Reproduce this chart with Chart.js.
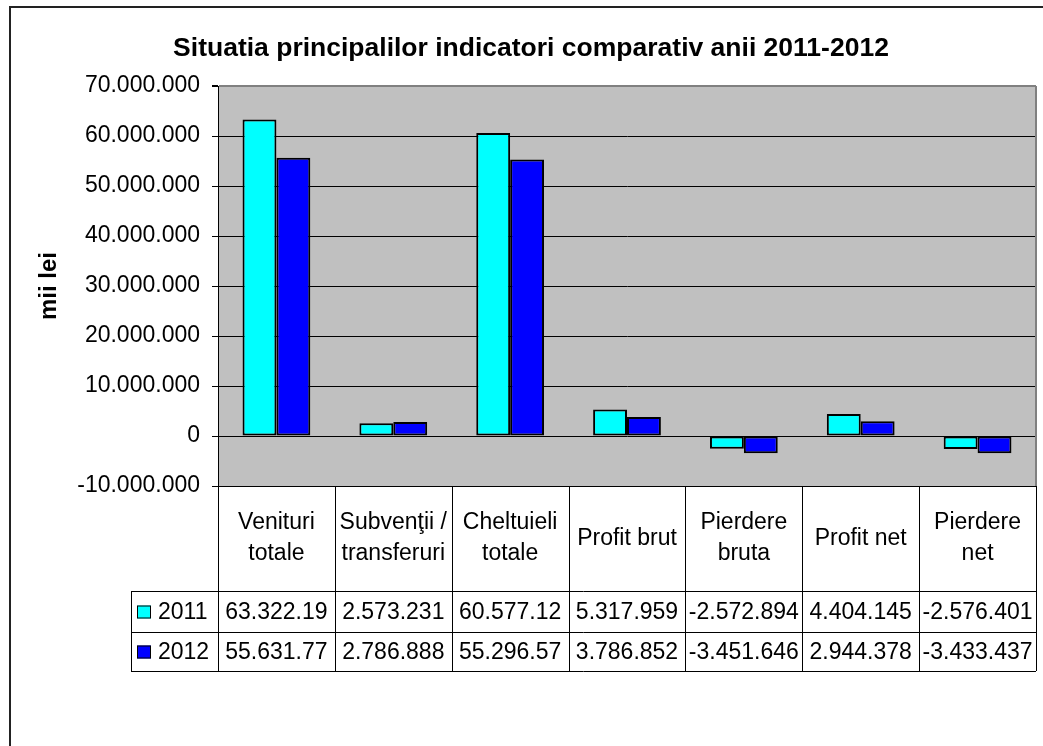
<!DOCTYPE html>
<html>
<head>
<meta charset="utf-8">
<script src="https://cdn.jsdelivr.net/npm/chart.js@4"></script>
<style>
  html, body { margin: 0; padding: 0; background: #fff; }
  #wrap { width: 1043px; height: 746px; }
</style>
</head>
<body>
<div id="wrap"><canvas id="bar-chart" width="1043" height="746"></canvas></div>
<script>
const categories = [
  ['Venituri', 'totale'],
  ['Subvenţii /', 'transferuri'],
  ['Cheltuieli', 'totale'],
  ['Profit brut'],
  ['Pierdere', 'bruta'],
  ['Profit net'],
  ['Pierdere', 'net']
];
const seriesNames = ['2011', '2012'];
const values2011 = [63322190, 2573231, 60577120, 5317959, -2572894, 4404145, -2576401];
const values2012 = [55631770, 2786888, 55296570, 3786852, -3451646, 2944378, -3433437];
const yMin = -10000000;
const yMax = 70000000;
const yStep = 10000000;

const FONT = '"Liberation Sans", Arial, sans-serif';

function fmt(v) {
  const s = String(Math.abs(Math.round(v))).replace(/\B(?=(\d{3})+(?!\d))/g, '.');
  return (v < 0 ? '-' : '') + s;
}

// excel style: cut characters that don't fit in the cell
function fitText(ctx, s, maxW) {
  while (s.length > 1 && ctx.measureText(s).width > maxW) s = s.slice(0, -1);
  return s;
}

const frame = {
  id: 'frame',
  beforeDraw(chart) {
    const {ctx, chartArea: a} = chart;
    ctx.save();
    ctx.fillStyle = '#fff';
    ctx.fillRect(0, 0, chart.width, chart.height);
    ctx.strokeStyle = '#222';
    ctx.lineWidth = 2;
    ctx.strokeRect(10, 7, 1200, 1200);
    ctx.fillStyle = '#C0C0C0';
    ctx.fillRect(a.left, a.top, a.right - a.left, a.bottom - a.top);
    ctx.restore();
  },
  afterDraw(chart) {
    const {ctx, chartArea: a} = chart;
    const x = chart.scales.x;
    const n = chart.data.labels.length;
    const colW = (a.right - a.left) / n;
    const headerB = a.bottom + 105;
    const row1B = headerB + 41;
    const row2B = row1B + 39;
    const legL = a.left - 87;

    ctx.save();
    // plot right edge
    ctx.strokeStyle = '#808080';
    ctx.lineWidth = 2;
    ctx.beginPath();
    ctx.moveTo(a.right, a.top);
    ctx.lineTo(a.right, a.bottom);
    ctx.stroke();

    // table grid
    ctx.strokeStyle = '#000';
    ctx.lineWidth = 1;
    ctx.beginPath();
    for (let i = 0; i <= n; i++) {
      const cx = Math.round(a.left + i * colW) + 0.5;
      ctx.moveTo(cx, a.bottom);
      ctx.lineTo(cx, row2B);
    }
    ctx.moveTo(a.left, a.bottom + 0.5);
    ctx.lineTo(a.right, a.bottom + 0.5);
    [headerB, row1B, row2B].forEach(y => {
      ctx.moveTo(legL, y + 0.5);
      ctx.lineTo(a.right, y + 0.5);
    });
    ctx.moveTo(legL + 0.5, headerB);
    ctx.lineTo(legL + 0.5, row2B);
    ctx.stroke();

    ctx.fillStyle = '#000';
    ctx.font = '23px ' + FONT;
    ctx.textAlign = 'center';
    ctx.textBaseline = 'middle';

    // header labels
    const headMid = (a.bottom + headerB) / 2;
    chart.data.labels.forEach((lab, i) => {
      const cx = x.getPixelForValue(i);
      const lines = Array.isArray(lab) ? lab : [lab];
      const lh = 31;
      const y0 = headMid - (lines.length - 1) * lh / 2;
      lines.forEach((t, k) => ctx.fillText(t, cx, y0 + k * lh));
    });

    // value rows
    const rowMids = [(headerB + row1B) / 2 + 1, (row1B + row2B) / 2 + 1];
    chart.data.datasets.forEach((ds, r) => {
      const ym = rowMids[r];
      ds.data.forEach((v, i) => {
        const cx = x.getPixelForValue(i);
        ctx.fillText(fitText(ctx, fmt(v), colW - 4), cx, ym);
      });
      // legend key
      ctx.fillStyle = ds.backgroundColor;
      ctx.fillRect(legL + 6, ym - 7, 14, 13);
      ctx.strokeStyle = '#000';
      ctx.strokeRect(legL + 6.5, ym - 6.5, 13, 12);
      ctx.fillStyle = '#000';
      ctx.textAlign = 'left';
      ctx.fillText(ds.label, legL + 27, ym);
      ctx.textAlign = 'center';
    });
    ctx.restore();
  }
};

new Chart(document.getElementById('bar-chart').getContext('2d'), {
  type: 'bar',
  data: {
    labels: categories,
    datasets: [{
      label: seriesNames[0],
      data: values2011,
      backgroundColor: '#00FFFF',
      borderColor: '#000',
      borderWidth: 2,
      borderSkipped: false,
    }, {
      label: seriesNames[1],
      data: values2012,
      backgroundColor: '#0000FF',
      borderColor: '#000',
      borderWidth: 2,
      borderSkipped: false,
    }]
  },
  options: {
    responsive: false,
    animation: false,
    layout: {
      padding: {left: 26, right: 7, top: 0, bottom: 260}
    },
    datasets: {
      bar: {categoryPercentage: 0.58, barPercentage: 1}
    },
    plugins: {
      legend: {display: false},
      tooltip: {enabled: false},
      title: {
        display: true,
        text: 'Situatia principalilor indicatori comparativ anii 2011-2012',
        color: '#000',
        font: {family: FONT, size: 26.5, weight: 'bold', lineHeight: 1},
        padding: {top: 35, bottom: 24.5}
      }
    },
    scales: {
      x: {display: false},
      y: {
        min: yMin,
        max: yMax,
        afterFit(scale) { scale.width = 192; },
        ticks: {
          stepSize: yStep,
          padding: 12,
          color: '#000',
          font: {family: FONT, size: 23},
          callback: v => fmt(v)
        },
        grid: {
          color: ctx => ctx.tick && ctx.tick.value === yMax ? '#808080' : '#000',
          lineWidth: ctx => ctx.tick && ctx.tick.value === yMax ? 2 : 1,
          tickLength: 6,
          tickColor: '#000'
        },
        border: {color: '#000', width: 1},
        title: {
          display: true,
          text: 'mii lei',
          color: '#000',
          font: {family: FONT, size: 24, weight: 'bold', lineHeight: 1.2},
          padding: {top: 9, bottom: 0}
        }
      }
    }
  },
  plugins: [frame]
});
</script>
</body>
</html>
